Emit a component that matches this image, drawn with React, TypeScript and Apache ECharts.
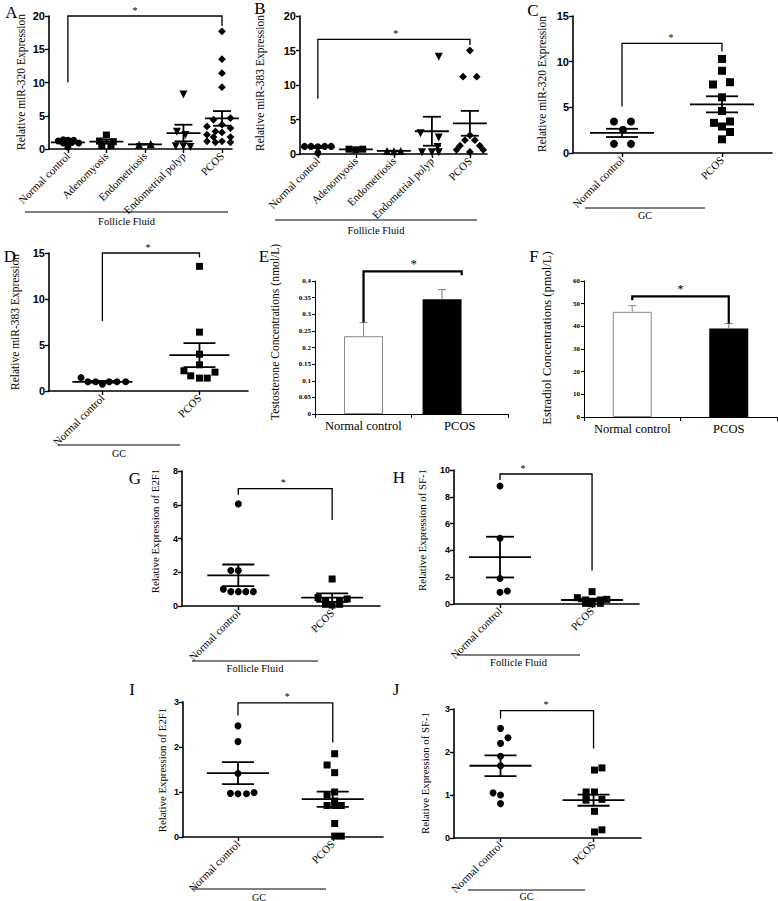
import React, { useEffect, useRef } from "react";
import * as echarts from "echarts";

const SERIF = '"Liberation Serif", "Times New Roman", serif';
const SANS = '"Liberation Sans", Arial, sans-serif';

const TWO_GROUPS = ["Normal control", "PCOS"];
const FIVE_GROUPS = ["Normal control", "Adenomyosis", "Endometriosis", "Endometrial polyp", "PCOS"];

// points are [horizontal spread within the group, value]
// Panel A – miR-320, follicle fluid
const A_NORMAL = [[-0.25, 1.2], [-0.12, 1.4], [0, 1.3], [0.15, 1.3], [0.28, 0.9], [0, 0.3], [-0.12, 0.9], [0.1, 1.0]];
const A_ADENO = [[0, 2.1], [-0.18, 1.2], [0.18, 1.1], [-0.12, 0.5], [0.12, 0.5]];
const A_ENDO = [[-0.15, 0.65], [0.15, 0.75]];
const A_POLYP = [[0, 8.2], [-0.17, 2.6], [0.05, 2.1], [-0.2, 0.4], [0.18, 0.3], [0, 0.4]];
const A_PCOS = [[0, 17.7], [0, 13.5], [0, 11.4], [0, 9.3], [0.22, 4.65], [-0.22, 4.4], [0, 3.65], [-0.39, 3.4], [0.22, 3.15], [-0.17, 2.65], [0, 2.5], [-0.39, 2.15], [0.3, 2.15], [-0.22, 1.8], [0.22, 1.8], [-0.39, 1.15], [-0.17, 1.0], [0, 1.15], [0.22, 1.0], [0.39, 1.15]];
const A_MEAN = [1.0, 1.1, 0.7, 2.4, 4.6];
const A_SEM = [0.15, 0.3, 0.04, 1.25, 1.1];
const A_BRACKET = [0, 4, 20, 10, 18.5, 1.74];

// Panel B – miR-383, follicle fluid
const B_NORMAL = [[-0.35, 1.1], [-0.18, 1.1], [0, 1.05], [0.18, 1.1], [0.35, 1.1], [0, 0.15]];
const B_ADENO = [[-0.18, 0.7], [0, 0.6], [0.18, 0.7]];
const B_ENDO = [[-0.18, 0.45], [0, 0.4], [0.18, 0.45]];
const B_POLYP = [[0.18, 14.1], [-0.3, 3.0], [0.18, 2.4], [0.15, 1.0], [-0.26, 0.25], [0, 0.25], [0.18, 0.25]];
const B_PCOS = [[0, 15.0], [-0.18, 11.2], [0.18, 11.2], [0, 2.7], [-0.13, 2.0], [0.13, 2.0], [-0.26, 1.2], [0.26, 1.2], [-0.35, 0.6], [0.35, 0.6], [0, 0.3]];
const B_MEAN = [1.0, 0.67, 0.45, 3.3, 4.45];
const B_SEM = [0.12, 0.05, 0.03, 2.1, 1.8];
const B_BRACKET = [0, 4, 16.6, 8.0, 15.8, 2.05];

// Panel C – miR-320, GC
const C_NORMAL = [[-0.08, 3.45], [0.09, 3.45], [0.01, 2.55], [-0.08, 1.0], [0.09, 1.0]];
const C_PCOS = [[0, 10.3], [0, 9.0], [-0.09, 7.5], [0.08, 7.75], [0, 6.1], [0, 4.6], [-0.08, 3.3], [0.08, 3.45], [0, 2.9], [0.08, 2.3], [0, 1.5]];
const C_MEAN = [2.2, 5.33];
const C_SEM = [0.45, 0.88];
const C_BRACKET = [0, 1, 12.0, 5.1, 11.1, 0.49];

// Panel D – miR-383, GC
const D_NORMAL = [[-0.22, 1.45], [-0.15, 1.0], [-0.07, 1.0], [0, 0.75], [0.07, 1.0], [0.15, 1.0], [0.24, 1.0]];
const D_PCOS = [[0, 13.55], [0, 6.4], [0, 4.0], [0, 2.85], [-0.16, 2.2], [0.16, 2.05], [-0.09, 1.65], [0, 1.4], [0.08, 1.4]];
const D_MEAN = [1.0, 3.9];
const D_SEM = [0.1, 1.3];
const D_BRACKET = [0, 1, 15, 7.6, 14.5, 0.47];

// Panel E – testosterone
const E_VALUES = [0.234, 0.345];
const E_ERR = [0.041, 0.029];
const E_BRACKET = [0, 1.25, 0.429, 0.275, 0.417, 0.64];

// Panel F – estradiol
const F_VALUES = [46.4, 39.0];
const F_ERR = [2.7, 2.2];
const F_BRACKET = [0, 1, 53.2, 51.5, 41.2, 0.5];

// Panel G – E2F1, follicle fluid
const G_NORMAL = [[0, 6.05], [-0.08, 2.1], [0, 2.1], [-0.16, 1.0], [-0.08, 0.85], [0, 0.85], [0.08, 0.85], [0.16, 0.85]];
const G_PCOS = [[0, 1.6], [-0.15, 0.5], [0.16, 0.42], [-0.07, 0.3], [0.08, 0.3], [-0.07, 0.1], [0, 0.06], [0.08, 0.1]];
const G_MEAN = [1.82, 0.5];
const G_SEM = [0.64, 0.25];
const G_BRACKET = [0, 1, 6.95, 6.6, 5.1, 0.48];

// Panel H – SF-1, follicle fluid
const H_NORMAL = [[0, 8.8], [0, 4.9], [0, 1.9], [0, 0.87], [0.08, 0.97]];
const H_PCOS = [[0, 0.92], [-0.16, 0.47], [-0.07, 0.3], [0.09, 0.3], [0.16, 0.35], [-0.07, 0.05], [0, 0.02], [0.09, 0.05]];
const H_MEAN = [3.5, 0.3];
const H_SEM = [1.52, 0.1];
const H_BRACKET = [0, 1, 9.7, 9.25, 2.5, 0.25];

// Panel I – E2F1, GC
const I_NORMAL = [[0, 2.47], [0, 2.12], [0, 1.41], [-0.08, 0.97], [0, 0.96], [0.09, 0.96], [0.17, 0.99]];
const I_PCOS = [[0.02, 1.85], [-0.06, 1.6], [0.02, 1.43], [0.02, 1.0], [-0.06, 0.93], [0.02, 0.8], [-0.06, 0.7], [0.02, 0.7], [0.09, 0.7], [0.02, 0.3], [0.02, 0.02], [0.09, 0.02]];
const I_MEAN = [1.42, 0.84];
const I_SEM = [0.245, 0.17];
const I_BRACKET = [0, 1, 2.98, 2.7, 2.1, 0.52];

// Panel J – SF-1, GC
const J_NORMAL = [[0, 2.55], [0.08, 2.33], [0, 2.2], [0, 1.9], [0, 1.68], [-0.08, 1.05], [0, 1.0], [0, 0.8]];
const J_PCOS = [[0.01, 1.58], [0.09, 1.63], [-0.08, 1.07], [0.01, 1.07], [-0.08, 0.96], [0.09, 0.9], [-0.08, 0.88], [0.01, 0.62], [0.01, 0.14], [0.09, 0.19]];
const J_MEAN = [1.68, 0.88];
const J_SEM = [0.24, 0.13];
const J_BRACKET = [0, 1, 2.96, 2.78, 2.08, 0.49];

const CIRCLE = { symbol: "circle", rotate: 0 };
const SQUARE = { symbol: "rect", rotate: 0 };
const TRI_UP = { symbol: "triangle", rotate: 0 };
const TRI_DOWN = { symbol: "triangle", rotate: 180 };
const DIAMOND = { symbol: "rect", rotate: 45 };

function meanSemRender(mw: number, sw: number, lw: number) {
  return (_params: any, api: any) => {
    const x = api.value(0);
    const m = api.value(1);
    const s = api.value(2);
    const c = api.coord([x, m]);
    const hi = api.coord([x, m + s]);
    const lo = api.coord([x, m - s]);
    const st = { stroke: "#000", lineWidth: lw };
    return {
      type: "group",
      children: [
        { type: "line", shape: { x1: c[0] - mw, y1: c[1], x2: c[0] + mw, y2: c[1] }, style: st },
        { type: "line", shape: { x1: hi[0] - sw, y1: hi[1], x2: hi[0] + sw, y2: hi[1] }, style: st },
        { type: "line", shape: { x1: lo[0] - sw, y1: lo[1], x2: lo[0] + sw, y2: lo[1] }, style: st },
        { type: "line", shape: { x1: c[0], y1: hi[1], x2: c[0], y2: lo[1] }, style: st },
      ],
    };
  };
}

function errorRender(cap: number, colors: string[]) {
  return (params: any, api: any) => {
    const x = api.value(0);
    const v = api.value(1);
    const e = api.value(2);
    const b = api.coord([x, v]);
    const t = api.coord([x, v + e]);
    const st = { stroke: colors[params.dataIndex], lineWidth: 1 };
    return {
      type: "group",
      children: [
        { type: "line", shape: { x1: b[0], y1: b[1], x2: t[0], y2: t[1] }, style: st },
        { type: "line", shape: { x1: t[0] - cap, y1: t[1], x2: t[0] + cap, y2: t[1] }, style: st },
      ],
    };
  };
}

function bracketRender(lw: number, starSize: number, starGap: number) {
  return (_params: any, api: any) => {
    const x1 = api.value(0);
    const x2 = api.value(1);
    const top = api.value(2);
    const l = api.value(3);
    const r = api.value(4);
    const sx = api.value(5);
    const a = api.coord([x1, l]);
    const b = api.coord([x1, top]);
    const c = api.coord([x2, top]);
    const d = api.coord([x2, r]);
    const s = api.coord([sx, top]);
    return {
      type: "group",
      children: [
        { type: "polyline", shape: { points: [a, b, c, d] }, style: { stroke: "#000", lineWidth: lw, fill: null } },
        {
          type: "text",
          x: s[0],
          y: s[1] - starGap,
          style: { text: "*", fontSize: starSize, fontFamily: SERIF, fill: "#000", align: "center", verticalAlign: "middle" },
        },
      ],
    };
  };
}

function buildOption() {
  const option: any = {
    animation: false,
    backgroundColor: "#fff",
    grid: [],
    xAxis: [],
    yAxis: [],
    series: [],
    graphic: [],
  };

  function yTitle(text: string, x: number, y: number, size: number) {
    option.graphic.push({
      type: "text",
      x,
      y,
      rotation: Math.PI / 2,
      style: { text, fontFamily: SERIF, fontSize: size, fill: "#000", align: "center", verticalAlign: "middle" },
    });
  }

  function scatterPanel(p: any) {
    const gi = option.grid.length;
    option.grid.push({ left: p.left, top: p.top, width: p.width, height: p.height });
    const xi = option.xAxis.length;
    const idx = p.cats.map((_: string, i: number) => i);
    option.xAxis.push({
      gridIndex: gi,
      type: "value",
      min: p.xMin,
      max: p.xMax,
      splitLine: { show: false },
      axisLine: { show: true, onZero: false, lineStyle: { color: "#000", width: 1.6 } },
      axisTick: { show: true, customValues: idx, length: 4, lineStyle: { color: "#000", width: 1.4 } },
      axisLabel: {
        show: true,
        customValues: idx,
        formatter: (v: number) => p.cats[Math.round(v)] || "",
        rotate: 45,
        margin: 5,
        fontFamily: SERIF,
        fontSize: p.catFont,
        color: "#000",
      },
    });
    const yi = option.yAxis.length;
    option.yAxis.push({
      gridIndex: gi,
      type: "value",
      min: 0,
      max: p.yMax,
      interval: p.yInterval,
      splitLine: { show: false },
      axisLine: { show: true, onZero: false, lineStyle: { color: "#000", width: 1.6 } },
      axisTick: { show: true, length: 4, lineStyle: { color: "#000", width: 1.4 } },
      axisLabel: { fontFamily: SANS, fontWeight: "bold", fontSize: p.tickFont, color: "#000", margin: 4 },
    });
    yTitle(p.yName, p.titleX, p.titleY, p.nameFont);
    p.groups.forEach((pts: number[][], g: number) => {
      const mk = p.markers[g];
      option.series.push({
        type: "scatter",
        xAxisIndex: xi,
        yAxisIndex: yi,
        symbol: mk.symbol,
        symbolRotate: mk.rotate,
        symbolSize: mk.rotate === 45 ? p.markSize - 1.5 : mk.symbol === "triangle" ? p.markSize + 1 : p.markSize,
        itemStyle: { color: "#000", opacity: 1 },
        z: 3,
        data: pts.map(([dx, v]) => [g + dx, v]),
      });
    });
    option.series.push({
      type: "custom",
      xAxisIndex: xi,
      yAxisIndex: yi,
      clip: false,
      z: 4,
      renderItem: meanSemRender(p.meanHalf, p.semHalf, 1.8),
      data: p.mean.map((m: number, g: number) => [g, m, p.sem[g]]),
    });
    option.series.push({
      type: "custom",
      xAxisIndex: xi,
      yAxisIndex: yi,
      clip: false,
      z: 4,
      renderItem: bracketRender(1.3, 10, 6),
      data: [p.bracket],
    });
  }

  function barPanel(p: any) {
    const gi = option.grid.length;
    option.grid.push({ left: p.left, top: p.top, width: p.width, height: p.height });
    option.xAxis.push({
      gridIndex: gi,
      type: "category",
      data: TWO_GROUPS,
      boundaryGap: true,
      splitLine: { show: false },
      axisLine: { show: true, onZero: false, lineStyle: { color: "#000", width: 1 } },
      axisTick: { show: true, length: 4, lineStyle: { color: "#000", width: 1 } },
      axisLabel: { fontFamily: SERIF, fontSize: 12.5, color: "#000", margin: 5, interval: 0 },
    });
    const xv = option.xAxis.length;
    option.xAxis.push({ gridIndex: gi, type: "value", show: false, min: p.xMin, max: p.xMax });
    const yi = option.yAxis.length;
    option.yAxis.push({
      gridIndex: gi,
      type: "value",
      min: 0,
      max: p.yMax,
      interval: p.yInterval,
      splitLine: { show: false },
      axisLine: { show: true, onZero: false, lineStyle: { color: "#000", width: 1 } },
      axisTick: { show: true, length: 3, lineStyle: { color: "#000", width: 1 } },
      axisLabel: { fontFamily: SERIF, fontWeight: "bold", fontSize: 7, color: "#000", margin: 4 },
    });
    yTitle(p.yName, p.titleX, p.titleY, p.nameFont);
    option.series.push({
      type: "bar",
      xAxisIndex: xv,
      yAxisIndex: yi,
      barWidth: 39,
      data: p.values.map((v: number, i: number) => ({
        value: [i, v],
        itemStyle: i === 0 ? { color: "#fff", borderColor: "#8a8a8a", borderWidth: 1 } : { color: "#000" },
      })),
    });
    option.series.push({
      type: "custom",
      xAxisIndex: xv,
      yAxisIndex: yi,
      clip: false,
      z: 4,
      renderItem: errorRender(4, ["#8a8a8a", "#7a7a7a"]),
      data: p.values.map((v: number, i: number) => [i, v, p.err[i]]),
    });
    option.series.push({
      type: "custom",
      xAxisIndex: xv,
      yAxisIndex: yi,
      clip: false,
      z: 5,
      renderItem: bracketRender(2.2, 13, 8),
      data: [p.bracket],
    });
  }

  const five = { cats: FIVE_GROUPS, catFont: 11, tickFont: 11, nameFont: 11.5, markSize: 7, meanHalf: 17, semHalf: 9 };
  const fiveMarkers = [CIRCLE, SQUARE, TRI_UP, TRI_DOWN, DIAMOND];
  const twoMarkers = [CIRCLE, SQUARE];

  scatterPanel({
    ...five, left: 49, top: 16, width: 183, height: 133, xMin: -0.49, xMax: 4.26, yMax: 20, yInterval: 5,
    yName: "Relative miR-320 Expression", titleX: 21, titleY: 82,
    groups: [A_NORMAL, A_ADENO, A_ENDO, A_POLYP, A_PCOS], markers: fiveMarkers,
    mean: A_MEAN, sem: A_SEM, bracket: A_BRACKET,
  });
  scatterPanel({
    ...five, left: 300, top: 16, width: 187, height: 138, xMin: -0.47, xMax: 4.45, yMax: 20, yInterval: 5,
    yName: "Relative miR-383 Expression", titleX: 260, titleY: 83,
    groups: [B_NORMAL, B_ADENO, B_ENDO, B_POLYP, B_PCOS], markers: fiveMarkers,
    mean: B_MEAN, sem: B_SEM, bracket: B_BRACKET,
  });
  scatterPanel({
    cats: TWO_GROUPS, catFont: 11, tickFont: 11, nameFont: 11.5, markSize: 8, meanHalf: 32, semHalf: 16,
    left: 573, top: 16, width: 199, height: 137, xMin: -0.49, xMax: 1.5, yMax: 15, yInterval: 5,
    yName: "Relative miR-320 Expression", titleX: 542, titleY: 84,
    groups: [C_NORMAL, C_PCOS], markers: twoMarkers, mean: C_MEAN, sem: C_SEM, bracket: C_BRACKET,
  });
  scatterPanel({
    cats: TWO_GROUPS, catFont: 11, tickFont: 11, nameFont: 11.5, markSize: 7, meanHalf: 30, semHalf: 16,
    left: 49, top: 253, width: 199, height: 138, xMin: -0.55, xMax: 1.5, yMax: 15, yInterval: 5,
    yName: "Relative miR-383 Expression", titleX: 15, titleY: 322,
    groups: [D_NORMAL, D_PCOS], markers: twoMarkers, mean: D_MEAN, sem: D_SEM, bracket: D_BRACKET,
  });
  barPanel({
    left: 315, top: 281, width: 193, height: 133, xMin: -0.618, xMax: 1.84, yMax: 0.4, yInterval: 0.05,
    yName: "Testosterone Concentrations (nmol/L)", titleX: 275, titleY: 332, nameFont: 11.6,
    values: E_VALUES, err: E_ERR, bracket: E_BRACKET,
  });
  barPanel({
    left: 584, top: 281, width: 193, height: 136, xMin: -0.5, xMax: 1.5, yMax: 60, yInterval: 10,
    yName: "Estradiol Concentrations (pmol/L)", titleX: 547, titleY: 338, nameFont: 12.6,
    values: F_VALUES, err: F_ERR, bracket: F_BRACKET,
  });
  const small = { cats: TWO_GROUPS, catFont: 11, tickFont: 9, nameFont: 10.8, markSize: 7, meanHalf: 31, semHalf: 16 };
  scatterPanel({
    ...small, left: 182, top: 471, width: 198, height: 135, xMin: -0.6, xMax: 1.51, yMax: 8, yInterval: 2,
    yName: "Relative Expression of E2F1", titleX: 155, titleY: 531,
    groups: [G_NORMAL, G_PCOS], markers: twoMarkers, mean: G_MEAN, sem: G_SEM, bracket: G_BRACKET,
  });
  scatterPanel({
    ...small, left: 454, top: 470, width: 185, height: 134, xMin: -0.5, xMax: 1.51, yMax: 10, yInterval: 2,
    yName: "Relative Expression of SF-1", titleX: 422, titleY: 530, semHalf: 14,
    groups: [H_NORMAL, H_PCOS], markers: twoMarkers, mean: H_MEAN, sem: H_SEM, bracket: H_BRACKET,
  });
  scatterPanel({
    ...small, left: 183, top: 702, width: 200, height: 135, xMin: -0.58, xMax: 1.53, yMax: 3, yInterval: 1,
    yName: "Relative Expression of E2F1", titleX: 162, titleY: 770,
    groups: [I_NORMAL, I_PCOS], markers: twoMarkers, mean: I_MEAN, sem: I_SEM, bracket: I_BRACKET,
  });
  scatterPanel({
    ...small, left: 454, top: 709, width: 187, height: 129, xMin: -0.5, xMax: 1.51, yMax: 3, yInterval: 1,
    yName: "Relative Expression of SF-1", titleX: 425, titleY: 773,
    groups: [J_NORMAL, J_PCOS], markers: twoMarkers, mean: J_MEAN, sem: J_SEM, bracket: J_BRACKET,
  });

  const letters: [string, number, number, number][] = [
    ["A", 11.5, 12.5, 17], ["B", 260, 8, 17], ["C", 533, 10.5, 17], ["D", 10, 256, 17],
    ["E", 264, 256, 17], ["F", 534, 256, 17], ["G", 135, 478, 17], ["H", 399, 477, 17],
    ["I", 132, 689, 17], ["J", 396, 689, 17],
  ];
  letters.forEach(([t, x, y, s]) => {
    option.graphic.push({
      type: "text", x, y,
      style: { text: t, fontFamily: SERIF, fontSize: s, fill: "#000", align: "center", verticalAlign: "middle" },
    });
  });
  const groupLabels: [string, number, number, number, number, number][] = [
    ["Follicle Fluid", 25, 228, 212, 221, 10.5],
    ["Follicle Fluid", 275, 477, 220, 230, 10.5],
    ["GC", 585, 705, 208, 215, 10],
    ["GC", 58, 180, 445, 453, 10],
    ["Follicle Fluid", 192, 318, 661, 668, 10.5],
    ["Follicle Fluid", 457, 580, 655, 662, 10.5],
    ["GC", 192, 326, 889, 897, 10],
    ["GC", 468, 585, 890, 896, 10],
  ];
  groupLabels.forEach(([t, x1, x2, ly, ty, fs]) => {
    option.graphic.push({
      type: "line",
      shape: { x1, y1: ly, x2, y2: ly },
      style: { stroke: "#000", lineWidth: 1 },
    });
    option.graphic.push({
      type: "text",
      x: (x1 + x2) / 2,
      y: ty,
      style: { text: t, fontFamily: SERIF, fontSize: fs, fill: "#000", align: "center", verticalAlign: "middle" },
    });
  });
  return option;
}

export default function App() {
  const ref = useRef<HTMLDivElement>(null);
  useEffect(() => {
    if (!ref.current) return;
    const chart = echarts.init(ref.current, null, { renderer: "svg" });
    chart.setOption(buildOption());
    return () => chart.dispose();
  }, []);
  return (
    <div
      ref={ref}
      style={{ position: "fixed", left: 0, top: 0, width: 778, height: 901, background: "#fff" }}
    />
  );
}
